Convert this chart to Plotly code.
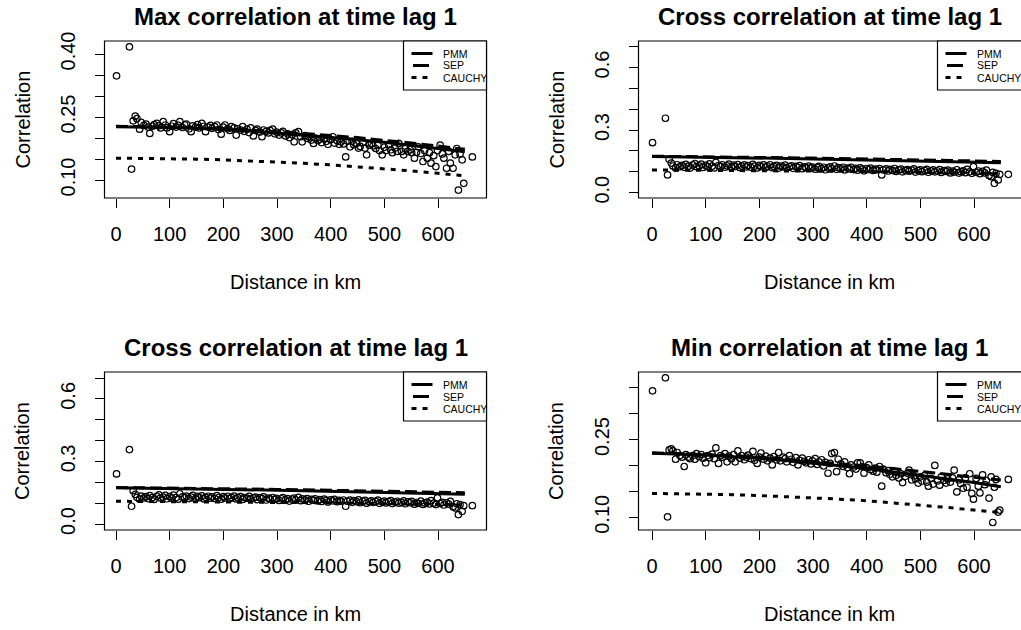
import plotly.graph_objects as go

# ---------------- data ----------------
distance_km = [
    1, 25, 29, 32, 36, 39, 44, 47, 52, 56,
    60, 63, 68, 71, 76, 80, 83, 88, 92, 95,
    100, 104, 107, 112, 116, 119, 124, 128, 131, 136,
    140, 143, 148, 152, 155, 160, 164, 167, 172, 176,
    179, 184, 188, 191, 196, 200, 203, 208, 212, 215,
    220, 224, 227, 232, 236, 239, 244, 248, 251, 256,
    260, 263, 268, 272, 275, 280, 284, 287, 292, 296,
    299, 304, 308, 311, 316, 320, 323, 328, 332, 335,
    340, 344, 347, 352, 356, 359, 364, 368, 371, 376,
    380, 383, 388, 392, 395, 400, 404, 407, 412, 416,
    419, 424, 428, 431, 436, 440, 443, 448, 452, 455,
    460, 464, 467, 472, 476, 479, 484, 488, 491, 496,
    500, 503, 508, 512, 515, 520, 524, 527, 532, 536,
    539, 544, 548, 551, 556, 560, 563, 568, 572, 575,
    580, 584, 587, 592, 596, 599, 604, 608, 611, 616,
    620, 623, 628, 632, 635, 638, 641, 645, 648, 664,
]

max_corr = [
    0.348, 0.417, 0.126, 0.241, 0.252, 0.246, 0.221, 0.237, 0.230, 0.233,
    0.226, 0.211, 0.228, 0.232, 0.235, 0.229, 0.224, 0.239, 0.231, 0.224,
    0.215, 0.228, 0.234, 0.226, 0.230, 0.239, 0.225, 0.231, 0.233, 0.222,
    0.215, 0.229, 0.226, 0.232, 0.224, 0.235, 0.228, 0.215, 0.226, 0.230,
    0.223, 0.227, 0.231, 0.220, 0.209, 0.226, 0.231, 0.222, 0.218, 0.227,
    0.224, 0.207, 0.222, 0.219, 0.227, 0.216, 0.221, 0.213, 0.224, 0.205,
    0.218, 0.221, 0.214, 0.203, 0.219, 0.216, 0.212, 0.218, 0.221, 0.210,
    0.214, 0.207, 0.212, 0.216, 0.205, 0.210, 0.201, 0.208, 0.191, 0.212,
    0.215, 0.203, 0.191, 0.206, 0.199, 0.203, 0.195, 0.187, 0.200, 0.194,
    0.197, 0.189, 0.199, 0.192, 0.185, 0.196, 0.203, 0.188, 0.194, 0.185,
    0.191, 0.186, 0.155, 0.193, 0.179, 0.192, 0.184, 0.187, 0.176, 0.180,
    0.189, 0.176, 0.160, 0.183, 0.187, 0.181, 0.175, 0.183, 0.170, 0.160,
    0.178, 0.170, 0.184, 0.172, 0.165, 0.176, 0.168, 0.187, 0.168, 0.160,
    0.175, 0.168, 0.172, 0.165, 0.152, 0.166, 0.179, 0.163, 0.144, 0.170,
    0.152, 0.165, 0.140, 0.158, 0.132, 0.170, 0.183, 0.162, 0.152, 0.128,
    0.168, 0.140, 0.128, 0.160, 0.175, 0.076, 0.162, 0.148, 0.092, 0.155,
]

cross_corr = [
    0.240, 0.357, 0.085, 0.160, 0.142, 0.128, 0.119, 0.134, 0.125, 0.131,
    0.122, 0.136, 0.127, 0.118, 0.133, 0.140, 0.125, 0.129, 0.137, 0.121,
    0.131, 0.124, 0.138, 0.127, 0.119, 0.145, 0.130, 0.126, 0.134, 0.122,
    0.129, 0.137, 0.121, 0.132, 0.126, 0.135, 0.120, 0.128, 0.133, 0.124,
    0.130, 0.122, 0.136, 0.127, 0.119, 0.131, 0.125, 0.133, 0.121, 0.128,
    0.134, 0.120, 0.126, 0.131, 0.118, 0.127, 0.124, 0.132, 0.119, 0.125,
    0.129, 0.117, 0.126, 0.122, 0.130, 0.115, 0.124, 0.120, 0.127, 0.118,
    0.123, 0.113, 0.121, 0.126, 0.116, 0.122, 0.110, 0.119, 0.124, 0.115,
    0.128, 0.112, 0.120, 0.116, 0.122, 0.109, 0.118, 0.114, 0.121, 0.111,
    0.117, 0.108, 0.119, 0.113, 0.105, 0.116, 0.111, 0.118, 0.107, 0.113,
    0.110, 0.115, 0.085, 0.109, 0.114, 0.104, 0.112, 0.107, 0.116, 0.102,
    0.109, 0.113, 0.100, 0.107, 0.111, 0.103, 0.108, 0.114, 0.099, 0.106,
    0.110, 0.101, 0.107, 0.112, 0.098, 0.105, 0.109, 0.100, 0.104, 0.111,
    0.097, 0.106, 0.102, 0.108, 0.095, 0.103, 0.099, 0.110, 0.094, 0.101,
    0.105, 0.096, 0.112, 0.100, 0.093, 0.125, 0.098, 0.104, 0.091, 0.102,
    0.095, 0.108, 0.083, 0.077, 0.097, 0.045, 0.093, 0.061, 0.088, 0.088,
]

min_corr = [
    0.344, 0.369, 0.101, 0.230, 0.232, 0.228, 0.212, 0.225, 0.219, 0.216,
    0.198, 0.221, 0.216, 0.213, 0.219, 0.212, 0.223, 0.217, 0.221, 0.214,
    0.205, 0.219, 0.215, 0.222, 0.213, 0.234, 0.204, 0.219, 0.216, 0.223,
    0.207, 0.218, 0.213, 0.221, 0.207, 0.228, 0.214, 0.219, 0.211, 0.216,
    0.220, 0.213, 0.227, 0.210, 0.204, 0.216, 0.224, 0.212, 0.218, 0.209,
    0.214, 0.201, 0.217, 0.211, 0.225, 0.209, 0.216, 0.213, 0.207, 0.219,
    0.212, 0.206, 0.215, 0.201, 0.210, 0.214, 0.208, 0.205, 0.211, 0.203,
    0.209, 0.213, 0.202, 0.207, 0.211, 0.199, 0.206, 0.185, 0.204, 0.223,
    0.225, 0.188, 0.212, 0.203, 0.198, 0.207, 0.196, 0.184, 0.201, 0.197,
    0.193, 0.205, 0.205, 0.198, 0.185, 0.196, 0.201, 0.192, 0.189, 0.195,
    0.187, 0.198, 0.160, 0.193, 0.186, 0.190, 0.183, 0.178, 0.188, 0.181,
    0.176, 0.184, 0.167, 0.179, 0.185, 0.191, 0.172, 0.180, 0.174, 0.166,
    0.178, 0.170, 0.181, 0.168, 0.160, 0.175, 0.164, 0.200, 0.170, 0.162,
    0.178, 0.171, 0.166, 0.174, 0.168, 0.176, 0.191, 0.149, 0.172, 0.165,
    0.156, 0.176, 0.158, 0.184, 0.146, 0.135, 0.175, 0.160, 0.147, 0.182,
    0.163, 0.171, 0.137, 0.178, 0.090, 0.158, 0.173, 0.110, 0.114, 0.173,
]

model_distance = [0, 50, 100, 150, 200, 250, 300, 350, 400, 450, 500, 550, 600, 650]

max_pmm = [0.227, 0.2265, 0.225, 0.223, 0.220, 0.2165, 0.212, 0.207, 0.202, 0.196, 0.190, 0.183, 0.175, 0.167]
max_sep = [0.228, 0.2275, 0.226, 0.224, 0.222, 0.219, 0.215, 0.211, 0.206, 0.201, 0.195, 0.188, 0.181, 0.173]
max_cauchy = [0.152, 0.1517, 0.151, 0.1497, 0.148, 0.1457, 0.143, 0.1397, 0.136, 0.1317, 0.127, 0.1217, 0.116, 0.110]

cross_pmm = [0.174, 0.1725, 0.171, 0.169, 0.167, 0.1645, 0.162, 0.1595, 0.157, 0.1545, 0.152, 0.149, 0.146, 0.143]
cross_sep = [0.175, 0.174, 0.173, 0.1715, 0.170, 0.168, 0.166, 0.164, 0.162, 0.160, 0.158, 0.1555, 0.153, 0.150]
cross_cauchy = [0.109, 0.1085, 0.108, 0.107, 0.106, 0.105, 0.104, 0.1025, 0.101, 0.0995, 0.098, 0.096, 0.094, 0.092]

min_pmm = [0.2235, 0.222, 0.220, 0.217, 0.214, 0.2095, 0.205, 0.1995, 0.194, 0.1875, 0.181, 0.174, 0.167, 0.159]
min_sep = [0.2245, 0.223, 0.221, 0.2185, 0.216, 0.212, 0.208, 0.2035, 0.199, 0.194, 0.189, 0.183, 0.177, 0.172]
min_cauchy = [0.146, 0.1457, 0.145, 0.1437, 0.142, 0.140, 0.138, 0.135, 0.132, 0.128, 0.124, 0.119, 0.114, 0.109]

x_ticks = [0, 100, 200, 300, 400, 500, 600]
x_ticktext = ["0", "100", "200", "300", "400", "500", "600"]
ticks_max = [0.10, 0.15, 0.20, 0.25, 0.30, 0.35, 0.40]
ticktext_max = ["0.10", "", "", "0.25", "", "", "0.40"]
ticks_cross = [0.0, 0.1, 0.2, 0.3, 0.4, 0.5, 0.6, 0.7]
ticktext_cross = ["0.0", "", "", "0.3", "", "", "0.6", ""]
ticks_min = [0.10, 0.15, 0.20, 0.25, 0.30, 0.35]
ticktext_min = ["0.10", "", "", "0.25", "", ""]

titles = ["Max correlation at time lag 1", "Cross correlation at time lag 1",
          "Cross correlation at time lag 1", "Min correlation at time lag 1"]
legend_labels = ["PMM", "SEP", "CAUCHY"]

# ---------------- layout geometry (pixels) ----------------
W, H = 1021, 630
FONT = "Liberation Sans, Arial, Helvetica, sans-serif"
DASHES = ["solid", "12px,5px", "5px,6px"]

panels = [
    dict(y=max_corr, lines=(max_pmm, max_sep, max_cauchy), box=(104.5, 486.5, 41, 198),
         x0px=116, ymap=(0.40, 54, 0.10, 180), yt=ticks_max, ytt=ticktext_max),
    dict(y=cross_corr, lines=(cross_pmm, cross_sep, cross_cauchy), box=(638.5, 1023, 41, 198),
         x0px=652, ymap=(0.7, 46.7, 0.0, 192.7), yt=ticks_cross, ytt=ticktext_cross),
    dict(y=cross_corr, lines=(cross_pmm, cross_sep, cross_cauchy), box=(104.5, 486.5, 372, 530),
         x0px=116, ymap=(0.7, 378, 0.0, 524), yt=ticks_cross, ytt=ticktext_cross),
    dict(y=min_corr, lines=(min_pmm, min_sep, min_cauchy), box=(638.5, 1023, 372, 530),
         x0px=652, ymap=(0.35, 387.7, 0.10, 517.3), yt=ticks_min, ytt=ticktext_min),
]
PX_PER_KM = 0.53667

fig = go.Figure()
shapes, annotations = [], []
layout = {}

for i, p in enumerate(panels, start=1):
    xa = "x" if i == 1 else f"x{i}"
    ya = "y" if i == 1 else f"y{i}"
    xl, xr, yt_px, yb_px = p["box"]
    xr_dom = min(xr, W)
    xrange = [(xl - p["x0px"]) / PX_PER_KM, (xr_dom - p["x0px"]) / PX_PER_KM]
    v1, p1, v2, p2 = p["ymap"]
    s = (p2 - p1) / (v1 - v2)  # px per unit
    yrange = [v2 - (yb_px - p2) / s, v1 + (p1 - yt_px) / s]

    fig.add_trace(go.Scatter(
        x=distance_km, y=p["y"], mode="markers", xaxis=xa, yaxis=ya,
        marker=dict(symbol="circle-open", size=6.5, color="black", line=dict(width=1.2, color="black")),
        showlegend=False, hoverinfo="skip"))
    for vals, dash, name in zip(p["lines"], DASHES, legend_labels):
        fig.add_trace(go.Scatter(
            x=model_distance, y=vals, mode="lines", xaxis=xa, yaxis=ya, name=name,
            line=dict(color="black", width=3, dash=dash), showlegend=False, hoverinfo="skip"))

    xkey = "xaxis" if i == 1 else f"xaxis{i}"
    ykey = "yaxis" if i == 1 else f"yaxis{i}"
    layout[xkey] = dict(
        domain=[xl / W, xr_dom / W], range=xrange, anchor=ya, showgrid=False, zeroline=False,
        showline=False, ticks="outside", ticklen=9, tickwidth=1, tickcolor="black",
        tickvals=x_ticks, ticktext=x_ticktext, tickfont=dict(size=20, color="black", family=FONT),
        ticklabelstandoff=9, fixedrange=True, automargin=False)
    layout[ykey] = dict(
        domain=[1 - yb_px / H, 1 - yt_px / H], range=yrange, anchor=xa, showgrid=False, zeroline=False,
        showline=False, ticks="outside", ticklen=9, tickwidth=1, tickcolor="black",
        tickvals=p["yt"], ticktext=p["ytt"], tickangle=-90,
        tickfont=dict(size=20, color="black", family=FONT), ticklabelstandoff=12, fixedrange=True,
        automargin=False)

    shapes.append(dict(type="rect", xref="paper", yref="paper",
                       x0=xl / W, x1=xr / W, y0=1 - yb_px / H, y1=1 - yt_px / H,
                       line=dict(color="black", width=1.2), fillcolor="rgba(0,0,0,0)", layer="above"))
    cx = (xl + (486.5 - 104.5) / 2) if xr > W else (xl + xr) / 2
    annotations.append(dict(text=titles[i - 1], xref="paper", yref="paper", x=cx / W, y=1 - (yt_px - 25) / H,
                            showarrow=False, xanchor="center", yanchor="middle",
                            font=dict(size=24, color="black", family=FONT, weight="bold")))
    annotations.append(dict(text="Distance in km", xref="paper", yref="paper", x=cx / W, y=1 - (yb_px + 84) / H,
                            showarrow=False, xanchor="center", yanchor="middle",
                            font=dict(size=20, color="black", family=FONT)))
    annotations.append(dict(text="Correlation", xref="paper", yref="paper", x=(xl - 82.5) / W,
                            y=1 - (yt_px + yb_px) / 2 / H, textangle=-90,
                            showarrow=False, xanchor="center", yanchor="middle",
                            font=dict(size=20, color="black", family=FONT)))
    lx = xl + 299
    shapes.append(dict(type="rect", xref="paper", yref="paper",
                       x0=lx / W, x1=xr / W, y0=1 - (yt_px + 49) / H, y1=1 - yt_px / H,
                       line=dict(color="black", width=1.2), fillcolor="white", layer="above"))
    for k, (dash, lab) in enumerate(zip(DASHES, legend_labels)):
        yy = 1 - (yt_px + 12.5 + 12 * k) / H
        if k == 1:
            sx0, sx1, d = lx + 9.5, lx + 25.5, "solid"
        else:
            sx0, sx1, d = lx + 8, lx + 29, dash
        shapes.append(dict(type="line", xref="paper", yref="paper", x0=sx0 / W, x1=sx1 / W, y0=yy, y1=yy,
                           line=dict(color="black", width=3, dash=d), layer="above"))
        annotations.append(dict(text=lab, xref="paper", yref="paper", x=(lx + 37.5) / W, y=yy,
                                showarrow=False, xanchor="left", yanchor="middle",
                                font=dict(size=10.5, color="black", family=FONT)))

fig.update_layout(
    width=W, height=H, autosize=False,
    margin=dict(l=0, r=0, t=0, b=0, pad=0, autoexpand=False),
    paper_bgcolor="white", plot_bgcolor="white", showlegend=False,
    shapes=shapes, annotations=annotations, font=dict(family=FONT, color="black"),
    **layout)

POST = (
    "document.documentElement.style.margin='0';"
    "document.body.style.margin='0';document.body.style.overflow='hidden';"
    "var g=document.getElementById('{plot_id}');"
    "g.style.position='absolute';g.style.left='0px';g.style.top='0px';"
)

fig.write_html("out.html", post_script=POST, config={"displayModeBar": False})
